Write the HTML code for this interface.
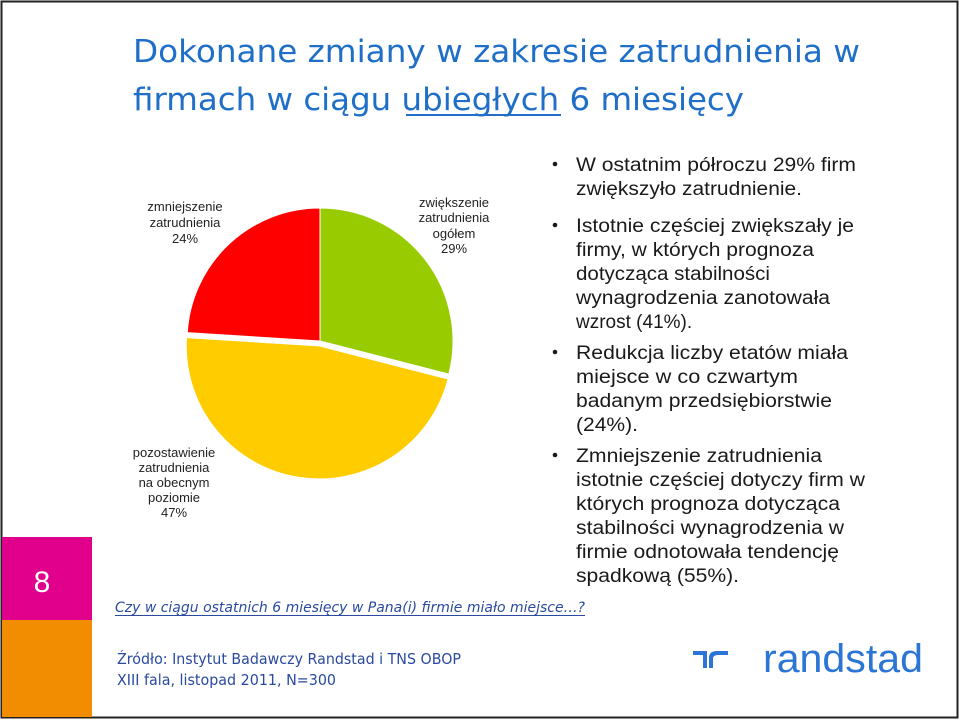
<!DOCTYPE html>
<html><head><meta charset="utf-8"><style>
html,body{margin:0;padding:0;background:#fff}
svg{display:block}
</style></head><body>
<svg width="960" height="720" viewBox="0 0 960 720" font-family="'Liberation Sans', sans-serif">
<rect x="1.5" y="1.5" width="956" height="716" fill="#fff" stroke="#222" stroke-width="2"/>
<rect x="2" y="537" width="90" height="83" fill="#e0008c"/>
<rect x="2" y="620" width="90" height="97" fill="#f28c00"/>
<text x="42" y="592" font-size="30" fill="#fff" text-anchor="middle">8</text>

<g fill="#1f6fc8" font-family="'DejaVu Sans', sans-serif" font-size="31">
<text x="133" y="62" textLength="727" lengthAdjust="spacingAndGlyphs">Dokonane zmiany w zakresie zatrudnienia w</text>
<text x="133" y="110" textLength="611" lengthAdjust="spacingAndGlyphs">firmach w ciągu ubiegłych 6 miesięcy</text>
<rect x="406" y="114" width="155" height="2"/>
</g>

<g id="pie"></g>

<g font-size="13" fill="#222" text-anchor="middle">
<text x="185" y="211">zmniejszenie</text><text x="185" y="227">zatrudnienia</text><text x="185" y="243">24%</text>
<text x="454" y="207">zwiększenie</text><text x="454" y="222">zatrudnienia</text><text x="454" y="238">ogółem</text><text x="454" y="253">29%</text>
<text x="174" y="457">pozostawienie</text><text x="174" y="472">zatrudnienia</text><text x="174" y="487">na obecnym</text><text x="174" y="502">poziomie</text><text x="174" y="517">47%</text>
</g>

<g font-family="'DejaVu Sans', sans-serif" fill="#2a4aa0">
<text x="115" y="612" font-size="14" font-style="italic" textLength="470" lengthAdjust="spacingAndGlyphs">Czy w ciągu ostatnich 6 miesięcy w Pana(i) firmie miało miejsce…?</text>
<rect x="115" y="615" width="470" height="1"/>
<text x="117" y="664" font-size="15" textLength="344" lengthAdjust="spacingAndGlyphs">Źródło: Instytut Badawczy Randstad i TNS OBOP</text>
<text x="117" y="685" font-size="15" textLength="219" lengthAdjust="spacingAndGlyphs">XIII fala, listopad 2011, N=300</text>
</g>

<g font-size="19" fill="#1a1a1a">
<g><circle cx="555" cy="164" r="2.3"/>
<text x="576" y="171" textLength="280" lengthAdjust="spacingAndGlyphs">W ostatnim półroczu 29% firm</text>
<text x="576" y="195" textLength="226" lengthAdjust="spacingAndGlyphs">zwiększyło zatrudnienie.</text></g>
<g><circle cx="555" cy="225" r="2.3"/>
<text x="576" y="232" textLength="278" lengthAdjust="spacingAndGlyphs">Istotnie częściej zwiększały je</text>
<text x="576" y="256" textLength="238" lengthAdjust="spacingAndGlyphs">firmy, w których prognoza</text>
<text x="576" y="280" textLength="194" lengthAdjust="spacingAndGlyphs">dotycząca stabilności</text>
<text x="576" y="304" textLength="254" lengthAdjust="spacingAndGlyphs">wynagrodzenia zanotowała</text>
<text x="576" y="328">wzrost (41%).</text></g>
<g><circle cx="555" cy="352" r="2.3"/>
<text x="576" y="359" textLength="272" lengthAdjust="spacingAndGlyphs">Redukcja liczby etatów miała</text>
<text x="576" y="383" textLength="222" lengthAdjust="spacingAndGlyphs">miejsce  w co czwartym</text>
<text x="576" y="407" textLength="256" lengthAdjust="spacingAndGlyphs">badanym przedsiębiorstwie</text>
<text x="576" y="431" textLength="62" lengthAdjust="spacingAndGlyphs">(24%).</text></g>
<g><circle cx="555" cy="455" r="2.3"/>
<text x="576" y="462" textLength="246" lengthAdjust="spacingAndGlyphs">Zmniejszenie zatrudnienia</text>
<text x="576" y="486" textLength="289" lengthAdjust="spacingAndGlyphs">istotnie częściej dotyczy firm w</text>
<text x="576" y="510" textLength="264" lengthAdjust="spacingAndGlyphs">których prognoza dotycząca</text>
<text x="576" y="534" textLength="268" lengthAdjust="spacingAndGlyphs">stabilności wynagrodzenia w</text>
<text x="576" y="558" textLength="263" lengthAdjust="spacingAndGlyphs">firmie odnotowała tendencję</text>
<text x="576" y="582" textLength="163" lengthAdjust="spacingAndGlyphs">spadkową (55%).</text></g>
</g>

<g fill="#2a75d6">
<path d="M693 651 h14 v17 h-4 v-13 h-10 z M709 668 v-10 q0 -7 8 -7 h11 v4 h-10 q-5 0 -5 4 v9 z"/>
<text x="763" y="672" font-size="40" textLength="160" lengthAdjust="spacingAndGlyphs">randstad</text>
</g>

<script>
const categories = ["zwiększenie zatrudnienia ogółem", "pozostawienie zatrudnienia na obecnym poziomie", "zmniejszenie zatrudnienia"];
const values = [29, 47, 24];
const colors = ["#99cc00", "#ffcc00", "#ff0000"];
const names = ["slice-increase", "slice-unchanged", "slice-decrease"];
const explode = [0, 5, 0];
(function(){
  const g = document.getElementById('pie');
  const cx = 320, cy = 341, rx = 133, ry = 133;
  const total = values.reduce((a,b)=>a+b,0);
  let a = -Math.PI/2;
  values.forEach((v,i)=>{
    const sweep = v/total*2*Math.PI;
    const a2 = a + sweep, mid = a + sweep/2;
    const ox = explode[i]*Math.cos(mid), oy = explode[i]*Math.sin(mid);
    const x0 = cx+ox, y0 = cy+oy;
    const x1 = x0+rx*Math.cos(a), y1 = y0+ry*Math.sin(a);
    const x2 = x0+rx*Math.cos(a2), y2 = y0+ry*Math.sin(a2);
    const p = document.createElementNS('http://www.w3.org/2000/svg','path');
    p.setAttribute('d', `M${x0},${y0} L${x1},${y1} A${rx},${ry} 0 ${sweep>Math.PI?1:0} 1 ${x2},${y2} Z`);
    p.setAttribute('fill', colors[i]);
    p.setAttribute('stroke', '#fff');
    p.setAttribute('stroke-width', '1');
    
    
    g.appendChild(p);
    a = a2;
  });
})();
</script>
</svg>
</body></html>
